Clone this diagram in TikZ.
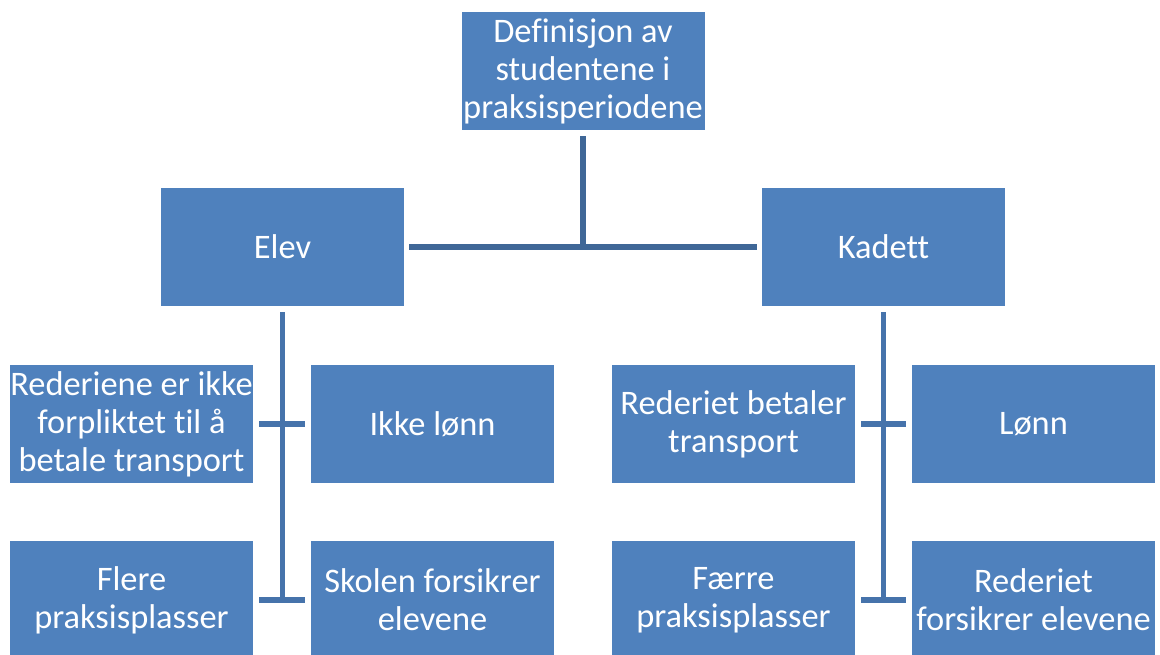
\documentclass[tikz,border=0pt]{standalone}
\usepackage{fontspec}
\setmainfont[Ligatures=NoCommon]{Carlito}
\definecolor{boksblaa}{HTML}{4F81BD}
\definecolor{toppstrek}{HTML}{3F6797}
\definecolor{strek}{HTML}{4673AB}
\tikzset{
	blokk/.style={rectangle,fill=boksblaa,text=white,align=center,minimum width=182.25pt,minimum height=88.5pt,inner sep=0pt,font=\fontsize{25.8}{28.5}\selectfont},
	kobling/.style={line width=4pt},
}
\begin{document}
\begin{tikzpicture}[x=0.75pt,y=-0.75pt]
	\useasboundingbox (0,0) rectangle (1160,655);
	\node (def) at (583,71) [blokk]{Definisjon av\\studentene i\\praksisperiodene};
	\node (elev) at (282.5,247) [blokk]{Elev};
	\node (kadett) at (883.5,247) [blokk]{Kadett};
	\node (eTransport) at (131.5,424) [blokk]{Rederiene er ikke\\forpliktet til å\\betale transport};
	\node (eLonn) at (432.5,424) [blokk]{Ikke lønn};
	\node (kTransport) at (733.5,424) [blokk]{Rederiet betaler\\transport};
	\node (kLonn) at (1033.5,424) [blokk]{Lønn};
	\node (eFlere) at (131.5,600) [blokk]{Flere\\praksisplasser};
	\node (eForsikrer) at (432.5,600) [blokk]{Skolen forsikrer\\elevene};
	\node (kFaerre) at (733.5,600) [blokk]{Færre\\praksisplasser};
	\node (kForsikrer) at (1033.5,600) [blokk]{Rederiet\\forsikrer elevene};
	\draw[kobling,toppstrek] ([yshift=-4.5pt]def.south) -- (def.south |- elev.east);
	\draw[kobling,toppstrek] ([xshift=3.75pt]elev.east) -- ([xshift=-3.75pt]kadett.west);
	\draw[kobling,strek] ([yshift=-4.5pt]elev.south) -- (elev.south |- eFlere.east);
	\draw[kobling,strek] ([xshift=4.5pt]eTransport.east) -- ([xshift=-4.5pt]eLonn.west);
	\draw[kobling,strek] ([xshift=4.5pt]eFlere.east) -- ([xshift=-4.5pt]eForsikrer.west);
	\draw[kobling,strek] ([yshift=-4.5pt]kadett.south) -- (kadett.south |- kFaerre.east);
	\draw[kobling,strek] ([xshift=4.5pt]kTransport.east) -- ([xshift=-4.5pt]kLonn.west);
	\draw[kobling,strek] ([xshift=4.5pt]kFaerre.east) -- ([xshift=-4.5pt]kForsikrer.west);
\end{tikzpicture}
\end{document}
